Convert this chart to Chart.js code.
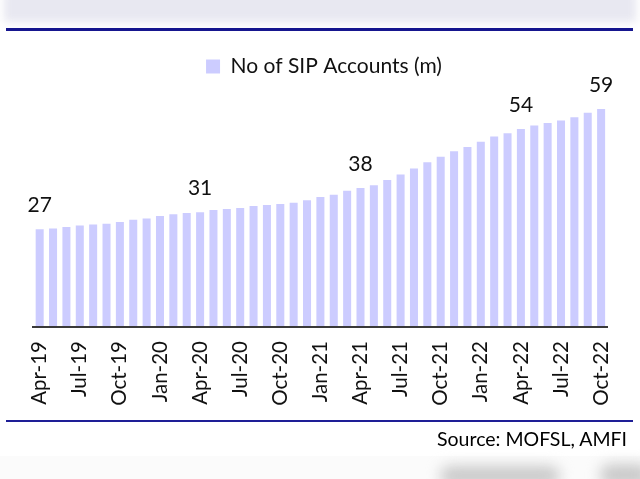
<!DOCTYPE html>
<html>
<head>
<meta charset="utf-8">
<script src="https://cdn.jsdelivr.net/npm/chart.js@4.4.0/dist/chart.umd.min.js"></script>
<style>
  html, body { margin: 0; padding: 0; background: #fff; }
  body { width: 640px; height: 479px; position: relative; overflow: hidden; font-family: Lato, "Open Sans", sans-serif; }
  #banner { position: absolute; left: 4px; top: -8px; width: 632px; height: 30px; background: #e8e8f1; filter: blur(4px); }
  #topline { position: absolute; left: 6px; top: 28px; width: 627px; height: 3px; background: #16168f; }
  #botline { position: absolute; left: 6px; top: 420px; width: 627px; height: 2px; background: #1e1e96; }
  #source { position: absolute; right: 13px; top: 427px; font: 19.5px Lato, sans-serif; color: #000; white-space: nowrap; }
  #shadow { position: absolute; left: 0; top: 456px; width: 640px; height: 40px; background: #fbfbfb; }
  .blob { position: absolute; background: #c9c9c9; filter: blur(7px); border-radius: 10px; }
  #wrap { position: absolute; left: 0; top: 0; width: 640px; height: 479px; }
</style>
</head>
<body>
<div id="banner"></div>
<div id="topline"></div>
<div id="shadow"></div>
<div class="blob" style="left:440px; top:466px; width:120px; height:20px;"></div>
<div class="blob" style="left:600px; top:464px; width:50px; height:22px;"></div>
<div id="wrap"><canvas id="c" width="640" height="479"></canvas></div>
<div id="botline"></div>
<div id="source">Source: MOFSL, AMFI</div>
<script>
const categories = [
  'Apr-19','May-19','Jun-19','Jul-19','Aug-19','Sep-19','Oct-19','Nov-19','Dec-19',
  'Jan-20','Feb-20','Mar-20','Apr-20','May-20','Jun-20','Jul-20','Aug-20','Sep-20',
  'Oct-20','Nov-20','Dec-20','Jan-21','Feb-21','Mar-21','Apr-21','May-21','Jun-21',
  'Jul-21','Aug-21','Sep-21','Oct-21','Nov-21','Dec-21','Jan-22','Feb-22','Mar-22',
  'Apr-22','May-22','Jun-22','Jul-22','Aug-22','Sep-22','Oct-22'
];
const sipAccounts = [
  26.6, 26.8, 27.2, 27.6, 27.9, 28.1, 28.6, 29.2, 29.5,
  30.2, 30.7, 31.0, 31.2, 31.8, 32.1, 32.4, 32.9, 33.2,
  33.5, 33.8, 34.5, 35.4, 36.0, 37.1, 37.8, 38.6, 40.0,
  41.5, 43.1, 44.8, 46.3, 47.8, 49.0, 50.4, 51.8, 52.7,
  53.9, 54.8, 55.5, 56.2, 57.1, 58.3, 59.3
];
const tickLabels = ['Apr-19','Jul-19','Oct-19','Jan-20','Apr-20','Jul-20','Oct-20','Jan-21','Apr-21','Jul-21','Oct-21','Jan-22','Apr-22','Jul-22','Oct-22'];
const labelledMonths = ['Apr-19','Apr-20','Apr-21','Apr-22','Oct-22'];
const seriesName = 'No of SIP Accounts (m)';

const valueLabels = {
  id: 'valueLabels',
  afterDatasetsDraw(chart) {
    const ctx = chart.ctx;
    const meta = chart.getDatasetMeta(0);
    ctx.save();
    ctx.font = '21px Lato, sans-serif';
    ctx.fillStyle = '#111';
    ctx.textAlign = 'center';
    ctx.textBaseline = 'alphabetic';
    meta.data.forEach((bar, i) => {
      if (labelledMonths.includes(categories[i])) {
        ctx.fillText(String(Math.round(sipAccounts[i])), bar.x, bar.y - 17);
      }
    });
    ctx.restore();
  }
};

new Chart(document.getElementById('c'), {
  type: 'bar',
  data: {
    labels: categories,
    datasets: [{
      label: seriesName,
      data: sipAccounts,
      backgroundColor: '#ccccff',
      borderWidth: 0,
      barPercentage: 0.6,
      categoryPercentage: 1.0
    }]
  },
  options: {
    responsive: false,
    animation: false,
    devicePixelRatio: 1,
    layout: { padding: { left: 33, right: 25, top: 46, bottom: 52 } },
    plugins: {
      legend: {
        display: true,
        position: 'top',
        labels: {
          boxWidth: 14, boxHeight: 14, padding: 10,
          color: '#111',
          font: { family: 'Lato', size: 21 }
        }
      },
      tooltip: { enabled: false },
      title: { display: false }
    },
    scales: {
      x: {
        grid: { display: false, drawTicks: false },
        border: { display: true, color: '#3a3a3a', width: 2, z: 1 },
        afterFit(scale) { scale.height = 100; },
        ticks: {
          autoSkip: false,
          maxRotation: 90,
          minRotation: 90,
          padding: 14,
          color: '#111',
          font: { family: 'Lato', size: 20.5 },
          callback(value, index) {
            const lab = categories[index];
            return tickLabels.includes(lab) ? lab : '';
          }
        }
      },
      y: {
        display: false,
        min: 0,
        max: 65.3
      }
    }
  },
  plugins: [valueLabels]
});
</script>
</body>
</html>
